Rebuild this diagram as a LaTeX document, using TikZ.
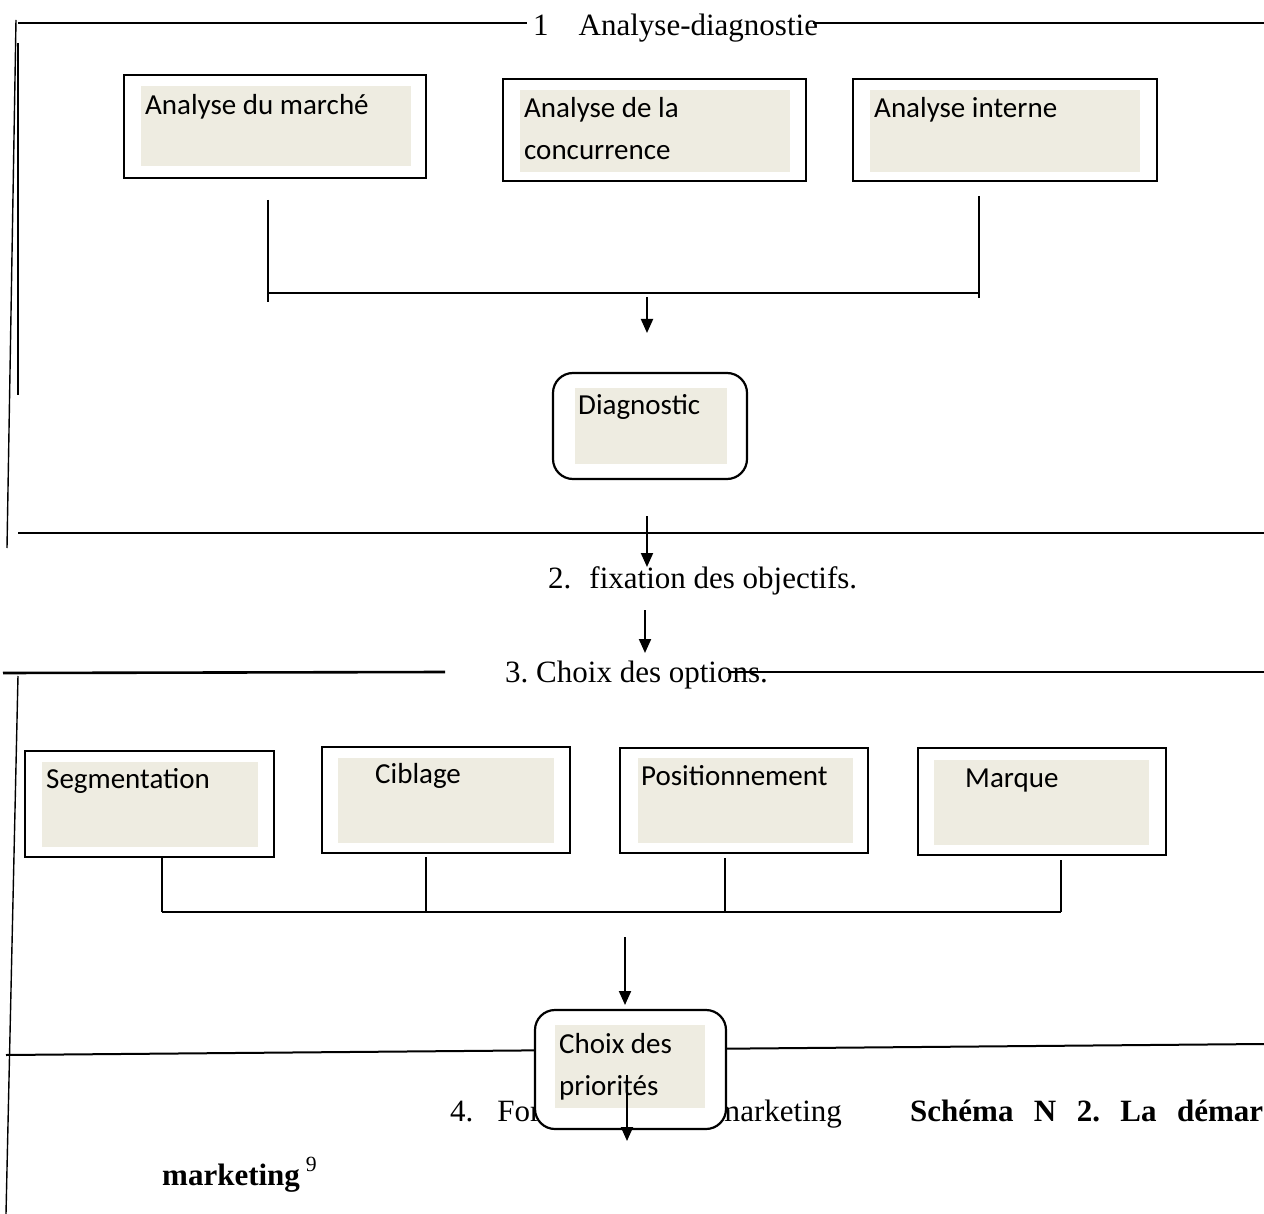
\documentclass[tikz,border=0pt]{standalone}
\usepackage{fontspec}
\setmainfont{Liberation Serif}
\newfontfamily\calibri{Carlito}
\usetikzlibrary{positioning, arrows.meta, calc}
\definecolor{BoxBeige}{RGB}{238,236,225}
\tikzset{
  outbox/.style 2 args={draw=black, line width=2.2pt, fill=white, inner sep=0pt,
    minimum width=#1pt, minimum height=#2pt},
  roundbox/.style 2 args={outbox={#1}{#2}, rounded corners=20pt},
  fillbox/.style 2 args={fill=BoxBeige, inner sep=0pt, minimum width=#1pt, minimum height=#2pt},
  boxtxt/.style={font=\calibri\fontsize{29}{35}\selectfont, anchor=base west, inner sep=0pt},
  title/.style={font=\fontsize{31}{37}\selectfont, anchor=base west, inner sep=0pt},
  frame/.style={line width=2pt},
  conn/.style={line width=2pt},
  arr/.style={-{Triangle[length=14pt, width=12pt]}, line width=2pt},
}

\begin{document}
\frenchspacing
\begin{tikzpicture}[x=1pt, y=-1pt]
  \useasboundingbox (0,0) rectangle (1264,1214);

  % 1. analyse-diagnostic
  \draw[frame, line width=1.4pt] (16,20) -- (7,548);
  \draw[frame, line width=2.6pt] (18,43) -- (18,395);
  \node[title] (t1) at (533,36) {1\hspace{30pt}Analyse-diagnostie};
  \draw[frame] (18,23) -- (527,23);
  \draw[frame] (813,23) -- (1264,23);

  \node[outbox={302}{103}] (marche) at (275,126.5) {};
  \node[fillbox={270}{80}] (marche-fill) at (276,126) {};
  \node[boxtxt] (marche-txt) at (145,115) {Analyse du marché};

  \node[outbox={303}{102}] (concur) at (654.5,130) {};
  \node[fillbox={270}{82}] (concur-fill) at (655,131) {};
  \node[boxtxt] (concur-txt1) at (524,118) {Analyse de la};
  \node[boxtxt] (concur-txt2) at (524,160) {concurrence};

  \node[outbox={304}{102}] (interne) at (1005,130) {};
  \node[fillbox={270}{82}] (interne-fill) at (1005,131) {};
  \node[boxtxt] (interne-txt) at (874,118) {Analyse interne};

  \coordinate (j1a) at (268,200); \coordinate (j1b) at (268,302);
  \coordinate (j2a) at (979,196); \coordinate (j2b) at (979,298);
  \coordinate (j1m) at (268,293); \coordinate (j2m) at (979,293);
  \draw[conn] (j1a) -- (j1b);
  \draw[conn] (j2a) -- (j2b);
  \draw[conn] (j1m) -- (j2m);
  \coordinate (a1s) at (647,297); \coordinate (a1e) at (647,333);
  \draw[arr] (a1s) -- (a1e);

  \node[roundbox={194}{106}] (diag) at (650,426) {};
  \node[fillbox={152}{76}] (diag-fill) at (651,426) {};
  \node[boxtxt] (diag-txt) at (578,415) {Diagnostic};

  % 2. objectifs
  \draw[frame, line width=2.8pt] (18,533) -- (1264,533);
  \coordinate (a2s) at (647,516); \coordinate (a2e) at (647,567);
  \draw[arr] (a2s) -- (a2e);
  \node[title] (t2) at (548,588) {2.\hspace{18pt}fixation des objectifs.};
  \coordinate (a3s) at (645,610); \coordinate (a3e) at (645,653);
  \draw[arr] (a3s) -- (a3e);

  % 3. options
  \node[title] (t3) at (505,682) {3. Choix des options.};
  \draw[frame, line width=2.6pt] (3,673) -- (445,672);
  \draw[frame] (728,672) -- (1264,672);
  \draw[frame, line width=1.4pt] (18,676) -- (6,1214);

  \node[outbox={249}{106}] (seg) at (149.5,804) {};
  \node[fillbox={216}{85}] (seg-fill) at (150,804.5) {};
  \node[boxtxt] (seg-txt) at (46,788) {Segmentation};

  \node[outbox={248}{106}] (cib) at (446,800) {};
  \node[fillbox={216}{85}] (cib-fill) at (446,800.5) {};
  \node[boxtxt] (cib-txt) at (375,783) {Ciblage};

  \node[outbox={248}{105}] (pos) at (744,800.5) {};
  \node[fillbox={215}{85}] (pos-fill) at (745.5,800.5) {};
  \node[boxtxt] (pos-txt) at (641,785) {Positionnement};

  \node[outbox={248}{107}] (mar) at (1042,801.5) {};
  \node[fillbox={215}{85}] (mar-fill) at (1041.5,802.5) {};
  \node[boxtxt] (mar-txt) at (965,787) {Marque};

  \foreach \nm/\x/\y in {seg/162/857, cib/426/857, pos/725/858, mar/1061/860}
    {\coordinate (\nm-top) at (\x,\y);
     \coordinate (\nm-bot) at (\x,912);
     \draw[conn] (\nm-top) -- (\nm-bot);}
  \draw[conn] (seg-bot) -- (mar-bot);
  \coordinate (a4s) at (625,937); \coordinate (a4e) at (625,1005);
  \draw[arr] (a4s) -- (a4e);

  % 4. plan
  \draw[frame] (6,1055) -- (1264,1044);
  \node[title] (t4a) at (450,1121) {4.\hspace{24pt}For};
  \node[title] (t4b) at (716,1121) {marketing};
  \node[title, font=\fontsize{31}{37}\selectfont\bfseries] (t4c) at (910,1121)
    {\makebox[353pt][s]{Schéma N 2. La démar}};
  \node[title, font=\fontsize{31}{37}\selectfont\bfseries] (t5) at (162,1185)
    {marketing\hspace{6pt}\raisebox{4pt}{\textsuperscript{\normalfont 9}}};

  \node[roundbox={191}{119}] (prio) at (630.5,1069.5) {};
  \node[fillbox={150}{83}] (prio-fill) at (630,1066.5) {};
  \node[boxtxt] (prio-txt1) at (559,1053) {Choix des};
  \node[boxtxt] (prio-txt2) at (559,1095) {priorités};
  \coordinate (a5s) at (627,1075); \coordinate (a5e) at (627,1141);
  \draw[arr] (a5s) -- (a5e);
\end{tikzpicture}
\end{document}
